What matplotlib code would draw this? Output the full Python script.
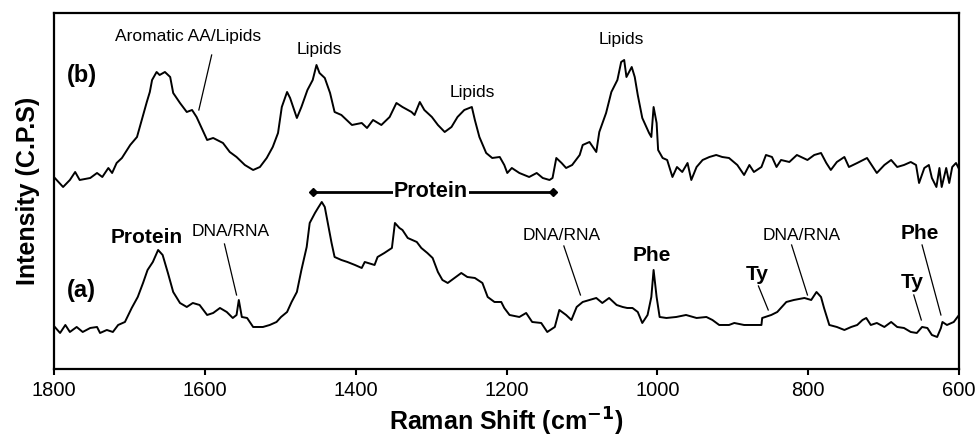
import matplotlib
matplotlib.use('Agg')
import matplotlib.pyplot as plt

plt.rcParams['font.family'] = ['Liberation Sans', 'DejaVu Sans']

# spectrum (b) (wavenumber, intensity)
wn_b = [1799, 1788, 1779, 1772, 1766, 1752, 1743, 1736, 1728, 1723, 1717, 1710,
        1699, 1690, 1683, 1677, 1673, 1670, 1664, 1660, 1653, 1646, 1642, 1633,
        1624, 1617, 1611, 1603, 1597, 1589, 1576, 1567, 1558, 1547, 1536, 1527,
        1518, 1510, 1503, 1498, 1491, 1487, 1478, 1472, 1464, 1457, 1452, 1448,
        1441, 1434, 1428, 1419, 1405, 1392, 1385, 1377, 1366, 1355, 1346, 1338,
        1326, 1322, 1315, 1309, 1299, 1291, 1282, 1273, 1265, 1256, 1246, 1242,
        1236, 1227, 1219, 1209, 1203, 1199, 1193, 1183, 1170, 1160, 1152, 1143,
        1139, 1134, 1127, 1121, 1113, 1103, 1099, 1090, 1081, 1077, 1068, 1061,
        1053, 1048, 1044, 1041, 1034, 1030, 1026, 1020, 1011, 1008, 1005, 1001,
        999, 993, 987, 980, 974, 967, 960, 955, 948, 940, 931, 922,
        914, 905, 894, 885, 878, 872, 862, 856, 848, 842, 836, 825,
        815, 801, 792, 783, 776, 770, 762, 752, 746, 735, 722, 709,
        699, 690, 682, 673, 664, 657, 653, 646, 640, 636, 630, 626,
        623, 617, 613, 609, 604, 600]
int_b = [191, 182, 189, 197, 189, 191, 196, 192, 201, 196, 206, 211,
         224, 232, 251, 267, 277, 289, 297, 294, 297, 292, 276, 266,
         257, 259, 252, 239, 229, 231, 226, 217, 212, 204, 199, 202,
         211, 222, 236, 262, 277, 271, 251, 262, 279, 289, 304, 296,
         291, 276, 257, 254, 244, 246, 241, 249, 244, 252, 266, 262,
         257, 254, 267, 259, 252, 244, 237, 242, 252, 259, 262, 249,
         232, 216, 211, 212, 204, 196, 201, 196, 192, 196, 191, 189,
         191, 211, 206, 201, 204, 214, 224, 227, 217, 237, 256, 277,
         289, 307, 309, 292, 302, 292, 274, 251, 236, 232, 262, 246,
         219, 211, 209, 192, 202, 197, 206, 189, 202, 209, 212, 214,
         212, 211, 204, 194, 204, 197, 202, 214, 212, 202, 209, 207,
         214, 209, 214, 216, 206, 199, 207, 212, 202, 206, 211, 196,
         204, 209, 202, 204, 207, 204, 186, 201, 204, 191, 182, 201,
         182, 201, 186, 202, 206, 200]

# spectrum (a)
wn_a = [1799, 1792, 1785, 1779, 1770, 1762, 1752, 1743, 1739, 1730, 1722, 1715,
        1706, 1697, 1689, 1682, 1676, 1669, 1662, 1656, 1649, 1642, 1633, 1624,
        1616, 1607, 1597, 1589, 1580, 1571, 1563, 1558, 1555, 1551, 1544, 1536,
        1523, 1514, 1505, 1499, 1491, 1485, 1478, 1472, 1465, 1461, 1454, 1450,
        1445, 1441, 1437, 1432, 1428, 1419, 1411, 1401, 1392, 1388, 1375, 1371,
        1362, 1352, 1348, 1342, 1338, 1331, 1319, 1313, 1305, 1298, 1291, 1285,
        1278, 1269, 1260, 1252, 1242, 1232, 1225, 1216, 1207, 1203, 1196, 1183,
        1174, 1166, 1154, 1146, 1136, 1130, 1121, 1114, 1107, 1099, 1090, 1081,
        1073, 1064, 1054, 1046, 1040, 1033, 1026, 1020, 1013, 1008, 1005, 1001,
        997, 988, 975, 962, 948, 935, 927, 918, 905, 898, 885, 872,
        862, 861, 849, 841, 829, 819, 805, 796, 789, 783, 779, 772,
        762, 752, 743, 735, 728, 723, 717, 709, 699, 690, 682, 673,
        664, 656, 649, 642, 636, 629, 624, 622, 616, 607, 603, 600]
int_a = [42, 36, 44, 37, 42, 37, 41, 42, 36, 39, 37, 44,
         47, 61, 72, 86, 99, 107, 119, 114, 96, 77, 66, 62,
         66, 64, 54, 56, 61, 57, 51, 54, 69, 52, 51, 42,
         42, 44, 47, 52, 57, 67, 77, 99, 122, 146, 156, 161,
         167, 162, 146, 126, 112, 109, 107, 104, 101, 107, 104, 112,
         116, 121, 146, 141, 139, 131, 127, 121, 116, 111, 97, 89,
         86, 91, 96, 92, 91, 86, 72, 67, 67, 61, 54, 52,
         56, 47, 46, 37, 42, 59, 54, 49, 62, 67, 69, 71,
         66, 71, 64, 62, 61, 61, 57, 46, 54, 72, 99, 72,
         52, 51, 52, 54, 51, 52, 49, 44, 44, 46, 44, 44,
         44, 51, 54, 57, 67, 69, 71, 69, 77, 72, 61, 44,
         42, 39, 42, 44, 49, 51, 44, 46, 42, 47, 42, 41,
         37, 36, 42, 41, 34, 32, 41, 47, 44, 47, 51, 54]

xticks = [1800, 1600, 1400, 1200, 1000, 800, 600]

# labels: text, x, y, bold, leader line (x0, y0, x1, y1) or None
labels = [
    ('(b)', 1763, 293, True, None),
    ('(a)', 1764, 78, True, None),
    ('Aromatic AA/Lipids', 1622, 332, False, (1591, 314, 1608, 259)),
    ('Lipids', 1448, 319, False, None),
    ('Lipids', 1246, 276, False, None),
    ('Lipids', 1048, 329, False, None),
    ('Protein', 1677, 131, True, None),
    ('DNA/RNA', 1566, 137, False, (1574, 125, 1558, 74)),
    ('DNA/RNA', 1127, 133, False, (1124, 123, 1102, 74)),
    ('Phe', 1007, 113, True, None),
    ('Ty', 867, 94, True, (866, 83, 853, 59)),
    ('DNA/RNA', 809, 133, False, (822, 124, 801, 74)),
    ('Ty', 662, 86, True, (660, 74, 650, 49)),
    ('Phe', 652, 135, True, (649, 124, 624, 54)),
]
protein_span = (1457, 1139, 177)

fig = plt.figure(figsize=(9.79, 4.42), dpi=100)
ax = fig.add_axes([0.0552, 0.1652, 0.9244, 0.8054])

ax.plot(wn_b, int_b, color='black', lw=1.4)
ax.plot(wn_a, int_a, color='black', lw=1.4)

for txt, x, y, bold, lead in labels:
    if bold:
        size = 15 if txt not in ('(a)', '(b)') else 17
        ax.text(x, y, txt, ha='center', va='center', fontsize=size, fontweight='bold')
    else:
        ax.text(x, y, txt, ha='center', va='center', fontsize=12.5)
    if lead is not None:
        ax.plot([lead[0], lead[2]], [lead[1], lead[3]], color='black', lw=0.9)

# protein band marker
x0, x1, yp = protein_span
ax.plot([x0, x1], [yp, yp], color='black', lw=2, marker='D', markersize=4.5)
ax.text((x0 + x1) / 2 + 2, yp, 'Protein', ha='center', va='center', fontsize=15.5,
        fontweight='bold', bbox=dict(facecolor='white', edgecolor='none', pad=1))

ax.set_xlim(1800, 600)
ax.set_ylim(0, 356)
ax.set_xticks(xticks)
ax.set_xticklabels([str(t) for t in xticks], fontsize=14.5)
ax.set_yticks([])
ax.tick_params(axis='x', direction='out', length=4, width=1.5, pad=5)
for s in ax.spines.values():
    s.set_linewidth(1.6)

ax.set_xlabel('Raman Shift (cm$^{\\mathbf{-1}}$)', fontsize=18, fontweight='bold', labelpad=4)
ax.set_ylabel('Intensity (C.P.S)', fontsize=18, fontweight='bold', labelpad=10)

fig.savefig('out.png', dpi=100)
